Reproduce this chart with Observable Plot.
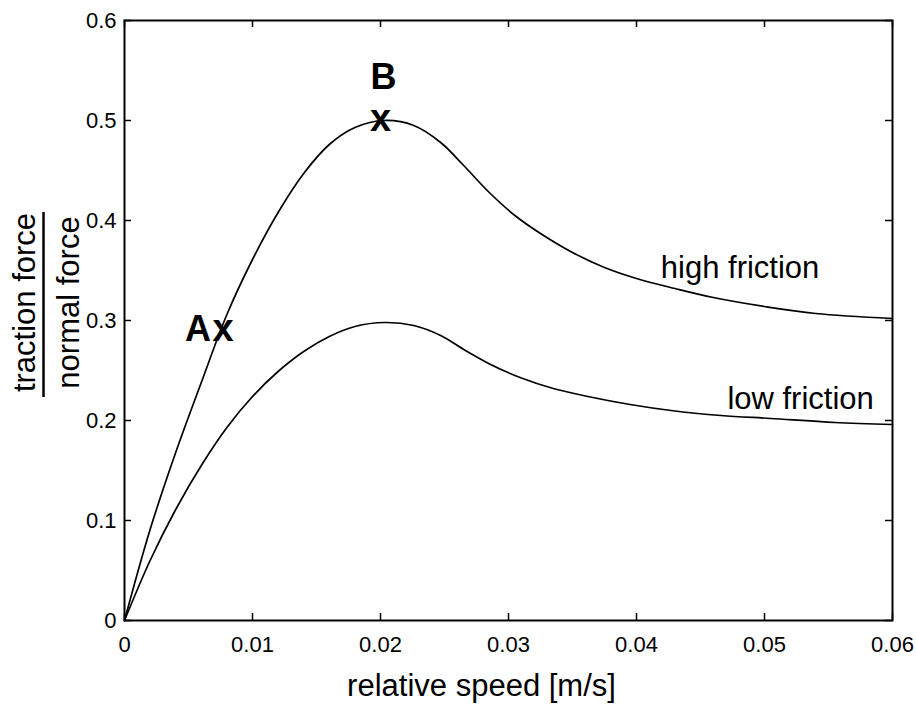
<!DOCTYPE html>
<html>
<head>
<meta charset="utf-8">
<script src="https://cdn.jsdelivr.net/npm/d3@7"></script>
<script src="https://cdn.jsdelivr.net/npm/@observablehq/plot@0.6"></script>
<style>
  html, body { margin: 0; padding: 0; background: #fff; }
  #chart { width: 916px; height: 704px; }
</style>
</head>
<body>
<div id="chart"></div>
<script>
// ---- data ----
const highX = [0, 0.002, 0.004, 0.006, 0.008, 0.010, 0.012, 0.014, 0.016, 0.018, 0.0203, 0.0226, 0.0247, 0.0265, 0.0285, 0.0305, 0.0325, 0.0350, 0.0375, 0.0400, 0.0430, 0.0460, 0.0500, 0.0540, 0.0600];
const highY = [0, 0.091, 0.168, 0.238, 0.306, 0.361, 0.408, 0.447, 0.476, 0.493, 0.500, 0.495, 0.478, 0.455, 0.428, 0.405, 0.387, 0.368, 0.353, 0.342, 0.332, 0.323, 0.314, 0.307, 0.302];

const lowX = [0, 0.002, 0.004, 0.006, 0.008, 0.010, 0.012, 0.014, 0.016, 0.018, 0.0203, 0.0226, 0.0247, 0.0265, 0.0286, 0.0309, 0.0335, 0.0362, 0.0395, 0.0427, 0.0466, 0.0505, 0.0555, 0.0600];
const lowY = [0, 0.060, 0.111, 0.155, 0.193, 0.224, 0.249, 0.269, 0.284, 0.294, 0.298, 0.295, 0.285, 0.271, 0.256, 0.243, 0.232, 0.224, 0.216, 0.210, 0.205, 0.202, 0.198, 0.196];

const xTicks = [0, 0.01, 0.02, 0.03, 0.04, 0.05, 0.06];
const xTickLabels = ["0", "0.01", "0.02", "0.03", "0.04", "0.05", "0.06"];
const yTicks = [0, 0.1, 0.2, 0.3, 0.4, 0.5, 0.6];
const yTickLabels = ["0", "0.1", "0.2", "0.3", "0.4", "0.5", "0.6"];

const markNames = ["A", "B"];
const markX = [0.0077, 0.020];
const markY = [0.290, 0.500];

const curveLabels = ["high friction", "low friction"];
const curveLabelX = [0.0419, 0.0471];
const curveLabelY = [0.343, 0.212];

const xLabel = "relative speed [m/s]";
const yLabelTop = "traction force";
const yLabelBottom = "normal force";

// ---- build tables ----
const high = highX.map((x, i) => ({x, y: highY[i]}));
const low = lowX.map((x, i) => ({x, y: lowY[i]}));
const pts = markNames.map((n, i) => ({name: n, x: markX[i], y: markY[i]}));
const curveLab = curveLabels.map((t, i) => ({t, x: curveLabelX[i], y: curveLabelY[i]}));

const FONT = "'Liberation Sans', Arial, Helvetica, sans-serif";
const W = 916, H = 704, ML = 124, MR = 24, MT = 20, MB = 84;
const PW = W - ML - MR, PH = H - MT - MB;
const TICK = 7;

const chart = Plot.plot({
  width: W,
  height: H,
  marginLeft: ML,
  marginRight: MR,
  marginTop: MT,
  marginBottom: MB,
  style: {fontFamily: FONT, color: "#000", background: "#fff", overflow: "visible"},
  x: {domain: [0, 0.06]},
  y: {domain: [0, 0.6]},
  marks: [
    Plot.axisX(xTicks, {tickSize: 0, tickPadding: 16, fontSize: 22, label: null,
      tickFormat: d => xTickLabels[xTicks.indexOf(d)]}),
    Plot.axisY(yTicks, {tickSize: 0, tickPadding: 8, fontSize: 22, label: null,
      tickFormat: d => yTickLabels[yTicks.indexOf(d)]}),
    // inward ticks on all four sides
    Plot.tickX(xTicks, {x: d => d, insetTop: PH - TICK, stroke: "#000", strokeWidth: 1.5}),
    Plot.tickX(xTicks, {x: d => d, insetBottom: PH - TICK, stroke: "#000", strokeWidth: 1.5}),
    Plot.tickY(yTicks, {y: d => d, insetRight: PW - TICK, stroke: "#000", strokeWidth: 1.5}),
    Plot.tickY(yTicks, {y: d => d, insetLeft: PW - TICK, stroke: "#000", strokeWidth: 1.5}),
    Plot.frame({stroke: "#000", strokeWidth: 2}),
    // curves
    Plot.line(high, {x: "x", y: "y", curve: "catmull-rom", stroke: "#000", strokeWidth: 1.7}),
    Plot.line(low, {x: "x", y: "y", curve: "catmull-rom", stroke: "#000", strokeWidth: 1.7}),
    // point markers
    Plot.text(pts, {x: "x", y: "y", text: () => "x", fontSize: 38, fontWeight: "bold",
      textAnchor: "middle", lineAnchor: "middle", dy: -2, fill: "#000"}),
    // point labels
    Plot.text(pts.filter(d => d.name === "A"), {x: "x", y: "y", text: "name", fontSize: 36, fontWeight: "bold",
      textAnchor: "middle", lineAnchor: "bottom", dx: -25, dy: 10, fill: "#000"}),
    Plot.text(pts.filter(d => d.name === "B"), {x: "x", y: "y", text: "name", fontSize: 36, fontWeight: "bold",
      textAnchor: "middle", lineAnchor: "bottom", dx: 3, dy: -32, fill: "#000"}),
    // curve labels
    Plot.text(curveLab, {x: "x", y: "y", text: "t", fontSize: 31, textAnchor: "start",
      lineAnchor: "bottom", fill: "#000"}),
    // x axis label
    Plot.text([xLabel], {frameAnchor: "bottom", text: d => d, fontSize: 31, textAnchor: "middle",
      lineAnchor: "bottom", dx: -27, dy: 75, fill: "#000"}),
    // y axis label as a fraction
    Plot.text([yLabelTop], {frameAnchor: "left", text: d => d, fontSize: 31, rotate: -90,
      textAnchor: "middle", lineAnchor: "bottom", dx: -90, dy: -18, fill: "#000"}),
    Plot.text([yLabelBottom], {frameAnchor: "left", text: d => d, fontSize: 31, rotate: -90,
      textAnchor: "middle", lineAnchor: "bottom", dx: -46, dy: -18, fill: "#000"}),
    Plot.ruleX([0], {dx: -81, insetTop: 192, insetBottom: 223, stroke: "#000", strokeWidth: 2.5})
  ]
});

document.getElementById("chart").appendChild(chart);
</script>
</body>
</html>
